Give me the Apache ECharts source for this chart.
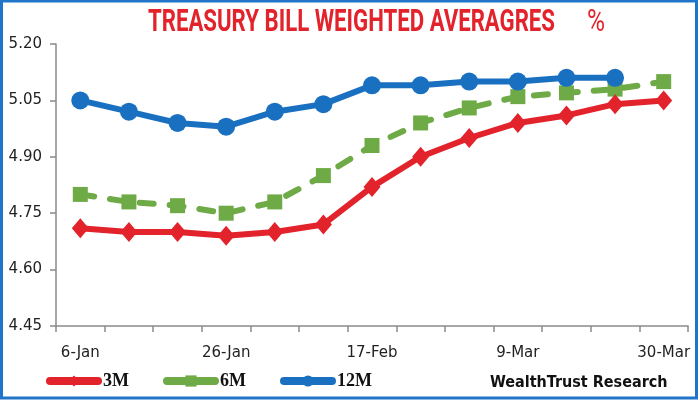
<!DOCTYPE html>
<html>
<head>
<meta charset="utf-8">
<script src="https://cdn.jsdelivr.net/npm/echarts@6/dist/echarts.min.js"></script>
<style>
html,body{margin:0;padding:0;background:#fff;}
#c{width:700px;height:400px;}
</style>
</head>
<body>
<div id="c"></div>
<script>
// Data
var categories = ['6-Jan','13-Jan','20-Jan','26-Jan','3-Feb','10-Feb','17-Feb','24-Feb','2-Mar','9-Mar','16-Mar','23-Mar','30-Mar'];
var bill3M  = [4.71,4.70,4.70,4.69,4.70,4.72,4.82,4.90,4.95,4.99,5.01,5.04,5.05];
var bill6M  = [4.80,4.78,4.77,4.75,4.78,4.85,4.93,4.99,5.03,5.06,5.07,5.08,5.10];
var bill12M = [5.05,5.02,4.99,4.98,5.02,5.04,5.09,5.09,5.10,5.10,5.11,5.11];
var yTicks  = [4.45,4.60,4.75,4.90,5.05,5.20];
var seriesNames = ['3M','6M','12M'];
var titleText = 'TREASURY BILL WEIGHTED AVERAGRES';
var titleUnit = '%';
var sourceText = 'WealthTrust Research';

var RED = '#e3232b', GREEN = '#6eab47', BLUE = '#1a70c0';

// condensed title: measure text and squeeze horizontally
var TITLE_FONT = 'bold 31px Roboto';
var mctx = document.createElement('canvas').getContext('2d');
mctx.font = TITLE_FONT;
var titleW = mctx.measureText(titleText).width;
var titleScale = 407 / titleW;
mctx.font = '31px Roboto';
var unitW = mctx.measureText(titleUnit).width;
var unitScale = 18 / unitW;

var chart = echarts.init(document.getElementById('c'), null, {renderer:'canvas'});
chart.setOption({
  animation: false,
  backgroundColor: '#ffffff',
  grid: {left: 56, right: 12, top: 44, bottom: 74, containLabel: false},
  xAxis: {
    type: 'category',
    data: categories,
    boundaryGap: true,
    axisLine: {lineStyle: {color: '#8a8a8a', width: 1.5}},
    axisTick: {show: true, interval: 0, length: 6, lineStyle: {color: '#8a8a8a', width: 1.5}},
    axisLabel: {interval: 2, margin: 20, color: '#222', fontSize: 15, fontFamily: 'DejaVu Sans'},
    splitLine: {show: false}
  },
  yAxis: {
    type: 'value',
    min: yTicks[0],
    max: yTicks[yTicks.length - 1],
    axisLine: {show: true, lineStyle: {color: '#8a8a8a', width: 1.5}},
    axisTick: {show: true, length: 6, customValues: yTicks, lineStyle: {color: '#8a8a8a', width: 1.5}},
    axisLabel: {customValues: yTicks, margin: 14, color: '#222', fontSize: 15, fontFamily: 'DejaVu Sans',
      formatter: function (v) { return Number(v).toFixed(2); }},
    splitLine: {show: false}
  },
  legend: {
    left: 41,
    top: 367,
    itemWidth: 48,
    itemHeight: 14,
    itemGap: 34,
    data: seriesNames,
    lineStyle: {width: 8, type: 'solid', cap: 'round'},
    textStyle: {fontFamily: 'Liberation Serif', fontWeight: 'bold', fontSize: 18, color: '#111'}
  },
  graphic: [
    {type: 'text', x: 148, y: 8, scaleX: titleScale,
     style: {text: titleText, font: TITLE_FONT, fill: RED}},
    {type: 'text', x: 587, y: 8, scaleX: unitScale,
     style: {text: titleUnit, font: '31px Roboto', fill: RED}},
    {type: 'rect', shape: {x: 1.5, y: 1, width: 695, height: 397}, style: {fill: null, stroke: '#1f76c8', lineWidth: 3}, silent: true, z: 100},
    {type: 'text', left: 490, top: 375, style: {text: sourceText, fontFamily: 'DejaVu Sans Condensed, DejaVu Sans', fontWeight: 'bold', fontSize: 16, fill: '#111'}}
  ],
  series: [
    {name: seriesNames[0], type: 'line', data: bill3M, symbol: 'diamond', symbolSize: [17, 20],
     lineStyle: {color: RED, width: 6}, itemStyle: {color: RED}, z: 3},
    {name: seriesNames[1], type: 'line', data: bill6M, symbol: 'rect', symbolSize: 15,
     lineStyle: {color: GREEN, width: 6, type: [14, 16], cap: 'round'}, itemStyle: {color: GREEN}, z: 2},
    {name: seriesNames[2], type: 'line', data: bill12M, symbol: 'circle', symbolSize: 18,
     lineStyle: {color: BLUE, width: 6}, itemStyle: {color: BLUE}, z: 4}
  ]
});
</script>
</body>
</html>
